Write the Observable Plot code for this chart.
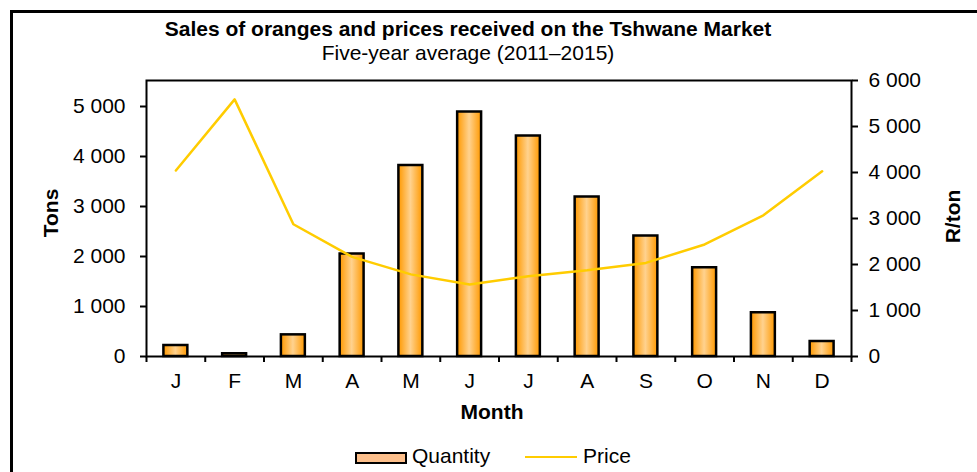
<!DOCTYPE html>
<html><head><meta charset="utf-8">
<script src="https://cdn.jsdelivr.net/npm/d3@7"></script>
<script src="https://cdn.jsdelivr.net/npm/@observablehq/plot@0.6"></script>
<style>
body{margin:0;background:#fff;font-family:"Liberation Sans",Arial,sans-serif;color:#000;}
#wrap{position:relative;width:977px;height:472px;overflow:hidden;}
#frame{position:absolute;left:10px;top:10px;width:1100px;height:600px;border-left:3px solid #000;border-top:3px solid #000;}
#chart{position:absolute;left:0;top:0;}
.t{position:absolute;white-space:nowrap;line-height:1em;font-size:21px;}
#title{left:0;width:936px;text-align:center;top:18px;font-weight:bold;}
#subtitle{left:0;width:936px;text-align:center;top:42px;}
#legQ{position:absolute;left:355px;top:452px;width:48px;height:8px;border:2px solid #000;background:#FDBF8B;}
#legQt{left:412px;top:445px;}
#legP{position:absolute;left:525px;top:455.5px;width:52px;height:2.5px;background:#FFCC00;}
#legPt{left:583px;top:445px;}
</style>
</head><body>
<div id="wrap">
<div id="frame"></div>
<div id="chart"></div>
<div class="t" id="title">Sales of oranges and prices received on the Tshwane Market</div>
<div class="t" id="subtitle">Five-year average (2011–2015)</div>
<div id="legQ"></div><div class="t" id="legQt">Quantity</div>
<div id="legP"></div><div class="t" id="legPt">Price</div>
</div>
<script>
const months = ["J","F","M","A","M","J","J","A","S","O","N","D"];
const quantity = [220, 55, 433, 2050, 3820, 4890, 4410, 3190, 2410, 1775, 875, 300];
const price = [4045, 5590, 2875, 2165, 1785, 1565, 1745, 1875, 2035, 2435, 3070, 4025];
const leftTicks = [0, 1000, 2000, 3000, 4000, 5000];
const rightTicks = [0, 1000, 2000, 3000, 4000, 5000, 6000];
const leftMax = 5520, rightMax = 6000;

const k = leftMax / rightMax;
const data = months.map((m, i) => ({i, m, q: quantity[i], p: price[i]}));
const fmt = v => d3.format(",")(Math.round(v)).replace(/,/g, " ");

const defs = () => {
  const g = d3.create("svg:defs");
  const lg = g.append("linearGradient").attr("id", "barGrad").attr("x1", "0").attr("x2", "1").attr("y1", "0").attr("y2", "0");
  lg.append("stop").attr("offset", "0%").attr("stop-color", "#FF9900");
  lg.append("stop").attr("offset", "50%").attr("stop-color", "#FFD28F");
  lg.append("stop").attr("offset", "100%").attr("stop-color", "#FF9900");
  return g.node();
};

const FS = 21;
const chart = Plot.plot({
  width: 977, height: 472,
  marginTop: 80, marginBottom: 116, marginLeft: 146, marginRight: 126,
  style: {fontFamily: "'Liberation Sans', Arial, sans-serif", fontSize: FS + "px", color: "#000", background: "transparent"},
  x: {type: "linear", domain: [0, 12], axis: null},
  y: {domain: [0, leftMax], axis: null},
  marks: [
    defs,
    Plot.rectY(data, {x1: d => d.i, x2: d => d.i + 1, y: "q", insetLeft: 17.4, insetRight: 17.4, fill: "url(#barGrad)", stroke: "#000", strokeWidth: 2.5}),
    Plot.line(data, {x: d => d.i + 0.5, y: d => d.p * k, stroke: "#FFCC00", strokeWidth: 2.5}),
    Plot.frame({stroke: "#000", strokeWidth: 2}),
    Plot.axisY({anchor: "left", ticks: leftTicks, tickSize: 6, tickPadding: 15, tickFormat: fmt, label: null, strokeWidth: 2, fontSize: FS}),
    Plot.axisY({anchor: "right", ticks: rightTicks.map(v => v * k), tickSize: 6, tickPadding: 11, tickFormat: d => fmt(d / k), label: null, strokeWidth: 2, fontSize: FS}),
    Plot.axisX({ticks: d3.range(0, 13), tickSize: 6, tickFormat: () => "", label: null, strokeWidth: 2}),
    Plot.axisX({ticks: d3.range(0, 12).map(i => i + 0.5), tickSize: 0, tickPadding: 17, tickFormat: d => months[Math.floor(d)], label: null, fontSize: FS}),
    Plot.text(["Tons"], {frameAnchor: "left", textAnchor: "middle", lineAnchor: "middle", dx: -95, dy: -5.5, rotate: -90, fontWeight: "bold", fontSize: FS}),
    Plot.text(["R/ton"], {frameAnchor: "right", textAnchor: "middle", lineAnchor: "middle", dx: 102, dy: -2, rotate: -90, fontWeight: "bold", fontSize: FS}),
    Plot.text(["Month"], {frameAnchor: "bottom", textAnchor: "middle", lineAnchor: "middle", dx: -7, dy: 56, fontWeight: "bold", fontSize: FS})
  ]
});
document.getElementById("chart").appendChild(chart);
</script>
</body></html>
